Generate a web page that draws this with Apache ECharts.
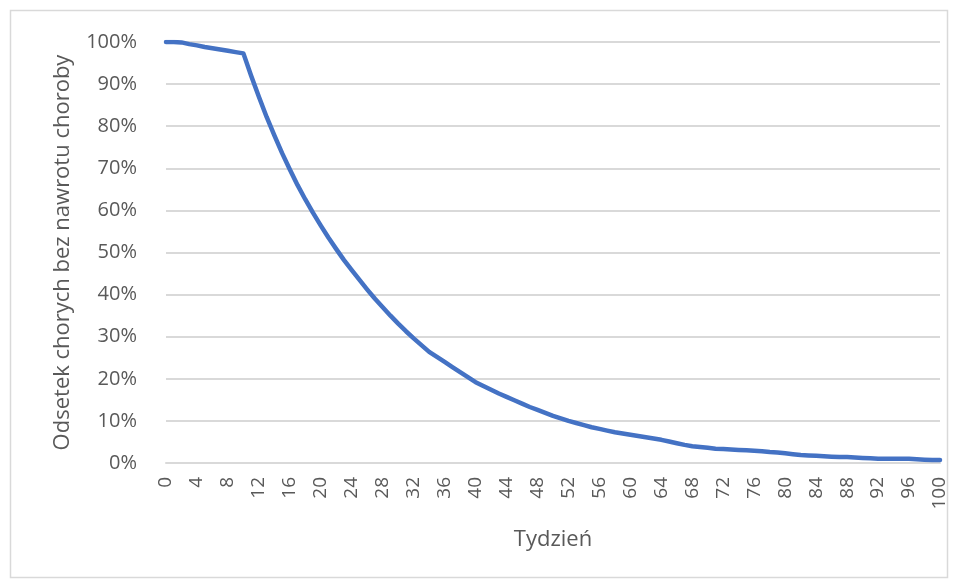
<!DOCTYPE html>
<html>
<head>
<meta charset="utf-8">
<script src="https://cdn.jsdelivr.net/npm/echarts@6/dist/echarts.min.js"></script>
<style>
  html, body { margin: 0; padding: 0; background: #fff; }
  #chart { width: 957px; height: 581px; }
</style>
</head>
<body>
<div id="chart"></div>
<script>
// Week numbers (0..100)
const weeks = [];
for (let w = 0; w <= 100; w++) weeks.push(String(w));

// Share of patients without relapse, in percent, one value per week
const relapseFree = [
  100.0, 100.0, 99.9, 99.5, 99.2, 98.8, 98.5, 98.2, 97.9, 97.6,
  97.3, 92.0, 87.0, 82.2, 77.8, 73.6, 69.7, 66.0, 62.6, 59.4,
  56.4, 53.5, 50.8, 48.2, 45.8, 43.5, 41.2, 39.0, 37.0, 35.0,
  33.1, 31.3, 29.6, 28.0, 26.4, 25.2, 24.0, 22.8, 21.6, 20.4,
  19.2, 18.3, 17.4, 16.5, 15.7, 14.9, 14.1, 13.3, 12.6, 11.9,
  11.2, 10.6, 10.0, 9.5, 9.0, 8.5, 8.1, 7.7, 7.3, 7.0,
  6.7, 6.4, 6.1, 5.8, 5.5, 5.1, 4.7, 4.3, 4.0, 3.8,
  3.6, 3.4, 3.3, 3.2, 3.1, 3.0, 2.9, 2.8, 2.6, 2.5,
  2.3, 2.1, 1.9, 1.8, 1.7, 1.6, 1.5, 1.4, 1.4, 1.3,
  1.2, 1.1, 1.0, 1.0, 1.0, 1.0, 1.0, 0.9, 0.8, 0.7,
  0.7
];

const xTitle = 'Tydzień';
const yTitle = 'Odsetek chorych bez nawrotu choroby';

const FONT = '"Open Sans", "Noto Sans", sans-serif';
const TEXT = '#595959';
const GRID = '#d9d9d9';

const chart = echarts.init(document.getElementById('chart'), null, { renderer: 'canvas' });
chart.setOption({
  animation: false,
  backgroundColor: '#ffffff',
  graphic: [{
    type: 'rect',
    shape: { x: 10.5, y: 10.5, width: 937, height: 567 },
    style: { fill: 'none', stroke: GRID, lineWidth: 1.5 },
    silent: true
  }],
  grid: { left: 166, right: 17, top: 42, bottom: 118, containLabel: false },
  xAxis: {
    type: 'category',
    data: weeks,
    boundaryGap: false,
    name: xTitle,
    nameLocation: 'middle',
    nameGap: 66,
    nameTextStyle: { color: TEXT, fontFamily: FONT, fontSize: 22 },
    axisLine: { lineStyle: { color: GRID, width: 2 } },
    axisTick: { show: false },
    axisLabel: {
      interval: 3,
      rotate: 90,
      margin: 14,
      color: TEXT,
      fontFamily: FONT,
      fontSize: 19
    },
    splitLine: { show: false }
  },
  yAxis: {
    type: 'value',
    min: 0,
    max: 100,
    interval: 10,
    name: yTitle,
    nameLocation: 'middle',
    nameGap: 92,
    nameTextStyle: { color: TEXT, fontFamily: FONT, fontSize: 22 },
    axisLine: { show: false },
    axisTick: { show: false },
    axisLabel: {
      formatter: '{value}%',
      margin: 29,
      color: TEXT,
      fontFamily: FONT,
      fontSize: 20
    },
    splitLine: { lineStyle: { color: GRID, width: 2 } }
  },
  series: [{
    type: 'line',
    data: relapseFree,
    showSymbol: false,
    smooth: false,
    lineStyle: { color: '#4472C4', width: 4.5, cap: 'round', join: 'round' },
    itemStyle: { color: '#4472C4' }
  }]
});
</script>
</body>
</html>
